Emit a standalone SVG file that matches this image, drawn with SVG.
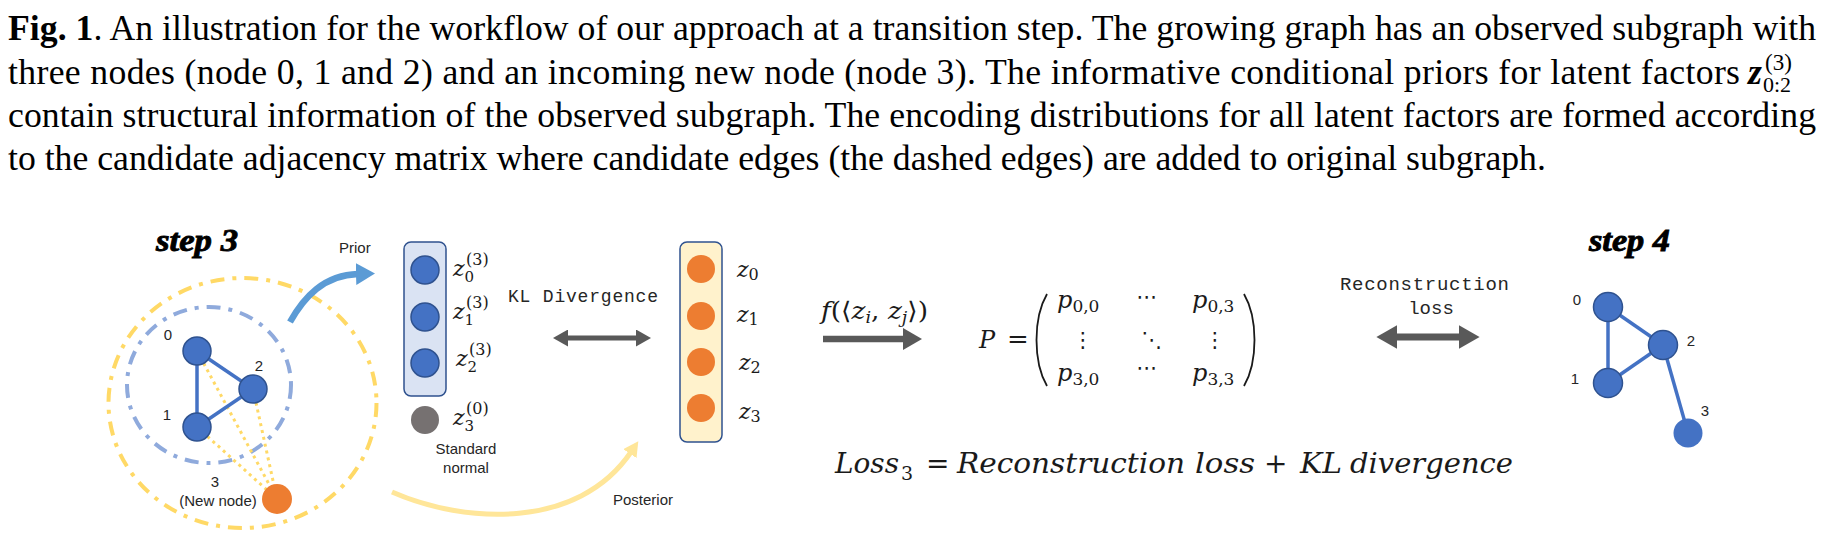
<svg xmlns="http://www.w3.org/2000/svg" width="1828" height="552" viewBox="0 0 1828 552">
<style>
.cap{font-family:"Liberation Serif","Times New Roman",serif;font-size:35.7px;fill:#000}
.step{font-family:"Liberation Serif",serif;font-weight:bold;font-style:italic;font-size:32px;fill:#000;stroke:#000;stroke-width:0.9}
.lbl{font-family:"Liberation Sans",Arial,sans-serif;font-size:15px;fill:#262626}
.mono{font-family:"Liberation Mono","DejaVu Sans Mono",monospace;fill:#262626}
.math{font-family:"DejaVu Serif",serif;font-style:italic;fill:#1a1a1a}
.up{font-style:normal}
.sym{font-family:"DejaVu Sans",sans-serif;font-style:normal;fill:#1a1a1a}
.bnode{fill:#4472C4;stroke:#2F528F;stroke-width:1.5}
.onode{fill:#ED7D31}
.edge{stroke:#4472C4;stroke-width:3.5;fill:none}
.cand{stroke:#FFD966;stroke-width:3;stroke-dasharray:3 4;fill:none}
.garrow{stroke:#595959;fill:none;marker-start:url(#gh);marker-end:url(#gh)}
</style>
<defs>
<marker id="gh" markerUnits="strokeWidth" markerWidth="3" markerHeight="3.4" refX="0.2" refY="1.7" orient="auto-start-reverse">
<path d="M0,0 L3,1.7 L0,3.4 z" fill="#595959"/>
</marker>
<marker id="bh" markerUnits="userSpaceOnUse" markerWidth="20" markerHeight="22" refX="2" refY="11" orient="auto">
<path d="M0,0 L19,11 L0,22 z" fill="#5B9BD5"/>
</marker>
<marker id="yh" markerUnits="userSpaceOnUse" markerWidth="16" markerHeight="16" refX="2" refY="8" orient="auto">
<path d="M0,0 L15,8 L0,16 z" fill="#FFE699"/>
</marker>
</defs>

<g id="caption" class="cap">
<text x="8" y="40" textLength="1808" lengthAdjust="spacing"><tspan font-weight="bold">Fig. 1</tspan>. An illustration for the workflow of our approach at a transition step. The growing graph has an observed subgraph with</text>
<text x="8" y="84" textLength="1732" lengthAdjust="spacing">three nodes (node 0, 1 and 2) and an incoming new node (node 3).  The informative conditional priors for latent factors</text>
<text x="1748" y="84" font-weight="bold" font-style="italic">z</text>
<text x="1763" y="92" font-size="22">0:2</text>
<text x="1765" y="70" font-size="23">(3)</text>
<text x="8" y="127" textLength="1808" lengthAdjust="spacing">contain structural information of the observed subgraph. The encoding distributions for all latent factors are formed according</text>
<text x="8" y="170">to the candidate adjacency matrix where candidate edges (the dashed edges) are added to original subgraph.</text>
</g>

<g id="step3-label"><text class="step" x="156" y="251" textLength="82" lengthAdjust="spacingAndGlyphs">step 3</text></g>
<g id="step4-label"><text class="step" x="1589" y="251" textLength="81" lengthAdjust="spacingAndGlyphs">step 4</text></g>

<g id="step3-graph">
<ellipse cx="242.5" cy="403" rx="134" ry="125" fill="none" stroke="#FFD966" stroke-width="4" stroke-dasharray="14 8 4 8"/>
<ellipse cx="209" cy="385" rx="82" ry="78" fill="none" stroke="#8FAADC" stroke-width="4" stroke-dasharray="14 8 4 8"/>
<line class="cand" x1="197" y1="351" x2="277" y2="499"/>
<line class="cand" x1="253" y1="389" x2="277" y2="499"/>
<line class="cand" x1="197" y1="427" x2="277" y2="499"/>
<line class="edge" x1="197" y1="351" x2="197" y2="427"/>
<line class="edge" x1="197" y1="351" x2="253" y2="389"/>
<line class="edge" x1="197" y1="427" x2="253" y2="389"/>
<g id="s3-node0"><circle class="bnode" cx="197" cy="351" r="14"/><text class="lbl" x="168" y="340" text-anchor="middle">0</text></g>
<g id="s3-node1"><circle class="bnode" cx="197" cy="427" r="14"/><text class="lbl" x="167" y="420" text-anchor="middle">1</text></g>
<g id="s3-node2"><circle class="bnode" cx="253" cy="389" r="14"/><text class="lbl" x="259" y="371" text-anchor="middle">2</text></g>
<g id="s3-node3"><circle class="onode" cx="277" cy="499" r="15"/><text class="lbl" x="215" y="487" text-anchor="middle">3</text><text class="lbl" x="218" y="506" text-anchor="middle">(New node)</text></g>
</g>

<g id="prior-column">
<rect x="404" y="242" width="42" height="154" rx="7" fill="#DAE3F3" stroke="#2F528F" stroke-width="1.5"/>
<circle class="bnode" cx="425" cy="270" r="14"/>
<circle class="bnode" cx="425" cy="317" r="14"/>
<circle class="bnode" cx="425" cy="363" r="14"/>
<text class="math" x="453" y="276" font-size="22">z<tspan class="up" font-size="15" dy="6">0</tspan></text>
<text class="math up" x="466" y="265" font-size="16">(3)</text>
<text class="math" x="453" y="319" font-size="22">z<tspan class="up" font-size="15" dy="6">1</tspan></text>
<text class="math up" x="466" y="308" font-size="16">(3)</text>
<text class="math" x="456" y="366" font-size="22">z<tspan class="up" font-size="15" dy="6">2</tspan></text>
<text class="math up" x="469" y="355" font-size="16">(3)</text>
</g>

<g id="standard-normal">
<circle cx="425" cy="420" r="14" fill="#767171"/>
<text class="math" x="453" y="425" font-size="22">z<tspan class="up" font-size="15" dy="6">3</tspan></text>
<text class="math up" x="466" y="414" font-size="16">(0)</text>
<text class="lbl" x="466" y="454" text-anchor="middle">Standard</text>
<text class="lbl" x="466" y="473" text-anchor="middle">normal</text>
</g>

<g id="posterior-column">
<rect x="680" y="242" width="42" height="200" rx="7" fill="#FFF2CC" stroke="#2F528F" stroke-width="1.5"/>
<circle class="onode" cx="701" cy="269" r="14"/>
<circle class="onode" cx="701" cy="316" r="14"/>
<circle class="onode" cx="701" cy="362" r="14"/>
<circle class="onode" cx="701" cy="408" r="14"/>
<text class="math" x="737" y="277" font-size="22">z<tspan class="up" font-size="16" dy="3">0</tspan></text>
<text class="math" x="737" y="322" font-size="22">z<tspan class="up" font-size="16" dy="3">1</tspan></text>
<text class="math" x="739" y="370" font-size="22">z<tspan class="up" font-size="16" dy="3">2</tspan></text>
<text class="math" x="739" y="419" font-size="22">z<tspan class="up" font-size="16" dy="3">3</tspan></text>
</g>

<g id="matrix">
<text class="math" x="979" y="348" font-size="24">P</text>
<text class="math up" x="1007" y="348" font-size="26">=</text>
<path d="M1047,294 C1033,318 1033,362 1047,386" fill="none" stroke="#1a1a1a" stroke-width="1.8"/>
<path d="M1244,294 C1258,318 1258,362 1244,386" fill="none" stroke="#1a1a1a" stroke-width="1.8"/>
<text class="math" x="1057" y="308" font-size="24">p<tspan class="up" font-size="17" dy="4">0,0</tspan></text>
<text class="math" x="1192" y="308" font-size="24">p<tspan class="up" font-size="17" dy="4">0,3</tspan></text>
<text class="math" x="1057" y="381" font-size="24">p<tspan class="up" font-size="17" dy="4">3,0</tspan></text>
<text class="math" x="1192" y="381" font-size="24">p<tspan class="up" font-size="17" dy="4">3,3</tspan></text>
<text class="sym" x="1147" y="304" font-size="21" text-anchor="middle">⋯</text>
<text class="sym" x="1147" y="375" font-size="21" text-anchor="middle">⋯</text>
<text class="sym" x="1083" y="347" font-size="21" text-anchor="middle">⋮</text>
<text class="sym" x="1152" y="347" font-size="21" text-anchor="middle">⋱</text>
<text class="sym" x="1215" y="347" font-size="21" text-anchor="middle">⋮</text>
</g>

<g id="loss-equation">
<text class="math" y="473" font-size="28"><tspan x="835" textLength="64" lengthAdjust="spacingAndGlyphs">Loss</tspan><tspan class="up" x="901" dy="7" font-size="19">3</tspan><tspan class="up" x="926" dy="-7">=</tspan><tspan x="957" textLength="228" lengthAdjust="spacingAndGlyphs">Reconstruction</tspan><tspan x="1195" textLength="60" lengthAdjust="spacingAndGlyphs">loss</tspan><tspan class="up" x="1264">+</tspan><tspan x="1300" textLength="42" lengthAdjust="spacingAndGlyphs">KL</tspan><tspan x="1350" textLength="163" lengthAdjust="spacingAndGlyphs">divergence</tspan></text>
</g>

<g id="step4-graph">
<line class="edge" x1="1608" y1="307" x2="1608" y2="383"/>
<line class="edge" x1="1608" y1="307" x2="1663" y2="345"/>
<line class="edge" x1="1608" y1="383" x2="1663" y2="345"/>
<line class="edge" x1="1663" y1="345" x2="1688" y2="433"/>
<g id="s4-node0"><circle class="bnode" cx="1608" cy="307" r="14.5"/><text class="lbl" x="1577" y="305" text-anchor="middle" font-size="13">0</text></g>
<g id="s4-node1"><circle class="bnode" cx="1608" cy="383" r="14.5"/><text class="lbl" x="1575" y="384" text-anchor="middle" font-size="13">1</text></g>
<g id="s4-node2"><circle class="bnode" cx="1663" cy="345" r="14.5"/><text class="lbl" x="1691" y="346" text-anchor="middle" font-size="13">2</text></g>
<g id="s4-node3"><circle cx="1688" cy="433" r="14.5" fill="#4472C4"/><text class="lbl" x="1705" y="416" text-anchor="middle" font-size="13">3</text></g>
</g>

<g id="connectors">
<path d="M290,322 C304,297 324,275 358,274" fill="none" stroke="#5B9BD5" stroke-width="6.5" marker-end="url(#bh)"/>
<text class="lbl" x="339" y="253">Prior</text>
<path d="M392,492 C465,524 578,530 631,452" fill="none" stroke="#FFE699" stroke-width="5" marker-end="url(#yh)"/>
<text class="lbl" x="613" y="505">Posterior</text>
<line class="garrow" x1="567" y1="338" x2="637" y2="338" stroke-width="5"/>
<text class="mono" x="508" y="302" font-size="18" textLength="150" lengthAdjust="spacing">KL Divergence</text>
<line x1="823" y1="339" x2="904" y2="339" stroke="#595959" stroke-width="6.5" marker-end="url(#gh)"/>
<text class="math" x="821" y="319" font-size="24" textLength="107" lengthAdjust="spacingAndGlyphs">f<tspan class="up">(⟨</tspan>z<tspan font-size="16" dy="4">i</tspan><tspan class="up" dy="-4">, </tspan>z<tspan font-size="16" dy="4">j</tspan><tspan class="up" dy="-4">⟩)</tspan></text>
<line class="garrow" x1="1396" y1="337" x2="1460" y2="337" stroke-width="7"/>
<text class="mono" x="1340" y="290" font-size="19" textLength="169" lengthAdjust="spacing">Reconstruction</text>
<text class="mono" x="1431" y="314" font-size="19" text-anchor="middle">loss</text>
</g>
</svg>
